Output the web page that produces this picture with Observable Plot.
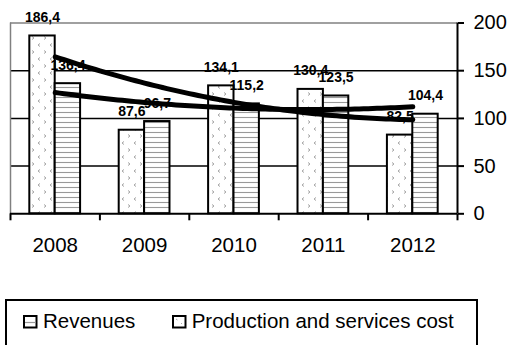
<!DOCTYPE html>
<html>
<head>
<meta charset="utf-8">
<script src="https://cdn.jsdelivr.net/npm/d3@7"></script>
<script src="https://cdn.jsdelivr.net/npm/@observablehq/plot@0.6"></script>
<style>
  html, body { margin: 0; padding: 0; background: #fff; }
  body { width: 510px; height: 345px; position: relative; overflow: hidden; font-family: "Liberation Sans", Arial, sans-serif; }
  #chart { position: absolute; left: 0; top: 0; }
  .legend { position: absolute; left: 5px; top: 299px; width: 469px; height: 60px; border: 2px solid #000; box-sizing: content-box; }
  .legend .sw { position: absolute; top: 14px; }
  .legend .lab { position: absolute; top: 10px; font-size: 20.5px; line-height: 20.5px; white-space: nowrap; color: #000; }
</style>
</head>
<body>
<div id="chart"></div>
<div class="legend">
  <svg class="sw" style="left:15.7px" width="15" height="14"><rect x="1" y="1" width="12.5" height="11.5" fill="#fff" stroke="#000" stroke-width="2"/><line x1="2" x2="12.5" y1="7.5" y2="7.5" stroke="#999" stroke-width="1.2"/></svg>
  <span class="lab" style="left:36px">Revenues</span>
  <svg class="sw" style="left:164.7px" width="15" height="14"><rect x="1" y="1" width="12.5" height="11.5" fill="#fff" stroke="#000" stroke-width="2"/><path d="M4,4 l1.5,1 M9,8 l1,1" stroke="#aaa" stroke-width="1"/></svg>
  <span class="lab" style="left:184.7px">Production and services cost</span>
</div>
<script>
// ---- data ----
const years = ["2008", "2009", "2010", "2011", "2012"];
const costValues = [186.4, 87.6, 134.1, 130.4, 82.5];      // dotted (left) bars
const revenueValues = [136.4, 96.7, 115.2, 123.5, 104.4];  // striped (right) bars
const yTicks = [0, 50, 100, 150, 200];
const gridValues = [50, 100, 150];

// ---- derived tables ----
const half = 0.284;
const bars = [];
years.forEach((yr, i) => {
  bars.push({year: yr, series: "cost", value: costValues[i], x1: i + 0.5 - half, x2: i + 0.5, fill: "url(#dotPat)"});
  bars.push({year: yr, series: "revenue", value: revenueValues[i], x1: i + 0.5, x2: i + 0.5 + half, fill: "url(#stripePat)"});
});
bars.forEach(d => { d.xc = (d.x1 + d.x2) / 2; d.label = d.value.toFixed(1).replace(".", ","); });

// quadratic (order-2 polynomial) least-squares trend, as in the spreadsheet trendline
function quadFit(vals) {
  const n = vals.length;
  let s = [0, 0, 0, 0, 0], t = [0, 0, 0];
  vals.forEach((v, k) => {
    const x = k;
    for (let p = 0; p <= 4; p++) s[p] += Math.pow(x, p);
    for (let p = 0; p <= 2; p++) t[p] += v * Math.pow(x, p);
  });
  const M = [[s[0], s[1], s[2], t[0]], [s[1], s[2], s[3], t[1]], [s[2], s[3], s[4], t[2]]];
  for (let c = 0; c < 3; c++) {
    for (let r = c + 1; r < 3; r++) {
      const f = M[r][c] / M[c][c];
      for (let k = c; k < 4; k++) M[r][k] -= f * M[c][k];
    }
  }
  const coef = [0, 0, 0];
  for (let r = 2; r >= 0; r--) {
    let sum = M[r][3];
    for (let k = r + 1; k < 3; k++) sum -= M[r][k] * coef[k];
    coef[r] = sum / M[r][r];
  }
  return coef;
}
const trend = [];
[["cost", costValues], ["revenue", revenueValues]].forEach(([name, vals]) => {
  const [a, b, c] = quadFit(vals);
  for (let k = 0; k <= 80; k++) {
    const x = (vals.length - 1) * k / 80;
    trend.push({series: name, x: x + 0.5, y: a + b * x + c * x * x});
  }
});

const chart = Plot.plot({
  width: 510,
  height: 296,
  marginLeft: 10,
  marginRight: 53,
  marginTop: 22.5,
  marginBottom: 82.7,
  x: {domain: [0, 5], axis: null},
  y: {domain: [0, 200], axis: null},
  style: {fontFamily: "'Liberation Sans', Arial, sans-serif", background: "#fff", color: "#000", overflow: "visible"},
  marks: [
    Plot.ruleY(gridValues, {stroke: "#000", strokeWidth: 1.5}),
    Plot.ruleY([200], {stroke: "#808080", strokeWidth: 1.5}),
    Plot.ruleX([0], {y1: 0, y2: 200, stroke: "#808080", strokeWidth: 1.5}),
    Plot.rectY(bars, {x1: "x1", x2: "x2", y1: 0, y2: "value", fill: d => d.fill, stroke: "#000", strokeWidth: 2}),
    Plot.ruleY([0], {stroke: "#000", strokeWidth: 2}),
    Plot.ruleX([5], {y1: 0, y2: 200, stroke: "#000", strokeWidth: 2}),
    Plot.axisY(yTicks, {anchor: "right", tickSize: 6, tickPadding: 10, fontSize: 20, strokeWidth: 2, tickFormat: d => String(d), label: null}),
    Plot.axisX([0, 1, 2, 3, 4, 5], {anchor: "bottom", tickSize: 7, strokeWidth: 2, tickFormat: () => "", label: null}),
    Plot.axisX([0.5, 1.5, 2.5, 3.5, 4.5], {anchor: "bottom", tickSize: 0, tickPadding: 24, fontSize: 20.5, tickFormat: d => years[Math.floor(d)], label: null}),
    Plot.text(bars, {x: "xc", y: "value", text: "label", dy: -14, lineAnchor: "bottom", fontSize: 14, fontWeight: "bold", fill: "#000"}),
    Plot.line(trend, {x: "x", y: "y", z: "series", stroke: "#000", strokeWidth: 5})
  ]
});

// patterns used by the bars
const defs = d3.select(chart).insert("defs", ":first-child");
const dot = defs.append("pattern").attr("id", "dotPat").attr("patternUnits", "userSpaceOnUse").attr("width", 12).attr("height", 14);
dot.append("rect").attr("width", 12).attr("height", 14).attr("fill", "#fff");
dot.append("path").attr("d", "M4,1.5 L2,3 L4,4.5 M8,8.5 L10,10 L8,11.5").attr("fill", "none").attr("stroke", "#9a9a9a").attr("stroke-width", 0.9);
const stripe = defs.append("pattern").attr("id", "stripePat").attr("patternUnits", "userSpaceOnUse").attr("width", 6).attr("height", 5);
stripe.append("rect").attr("width", 6).attr("height", 5).attr("fill", "#fff");
stripe.append("line").attr("x1", 0).attr("x2", 6).attr("y1", 2.5).attr("y2", 2.5).attr("stroke", "#999").attr("stroke-width", 1.1);

document.getElementById("chart").appendChild(chart);
</script>
</body>
</html>
